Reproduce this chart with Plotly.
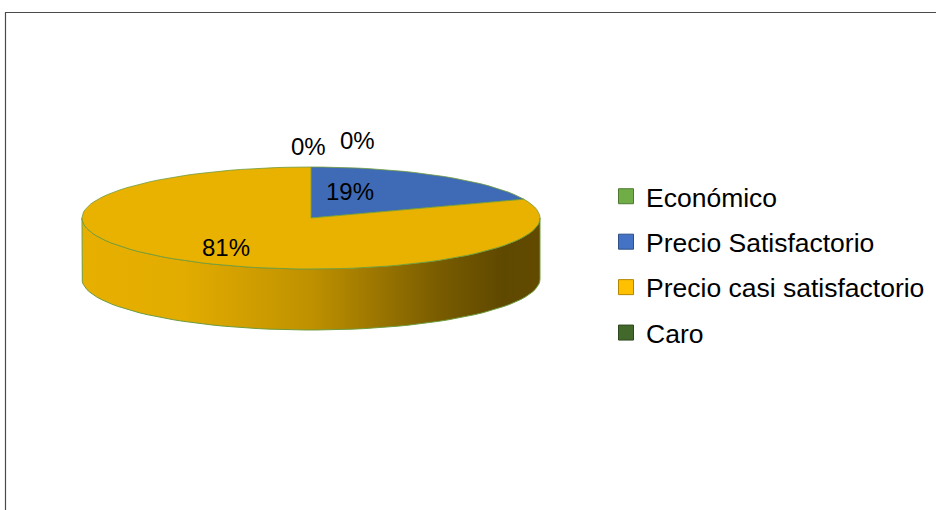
import math
import plotly.graph_objects as go

# Survey answers about perceived price
categories = ["Económico", "Precio Satisfactorio", "Precio casi satisfactorio", "Caro"]
values = [0, 19, 81, 0]
colors = ["#70AD47", "#3F6BB6", "#EAB200", "#446A2B"]
legend_colors = ["#70AD47", "#4472C4", "#FFC000", "#43682B"]

W, H = 936, 510
FONT = "Arial, 'Liberation Sans', sans-serif"

# Geometry of the tilted pie (pixel space)
CX, CY = 311.0, 218.0
RX, RY = 229.0, 51.0
DEPTH = 61.0
EDGE = "#6E9B3C"


def pt(theta, drop=0.0, k=1.0):
    """Point on the top ellipse; theta in degrees clockwise from 12 o'clock."""
    t = math.radians(theta)
    return CX + k * RX * math.sin(t), CY - k * RY * math.cos(t) + drop


def arc(a, b, drop=0.0, n=120):
    steps = max(2, int(abs(b - a) / 360 * n) + 2)
    xs, ys = [], []
    for i in range(steps):
        th = a + (b - a) * i / (steps - 1)
        x, y = pt(th, drop)
        xs.append(x)
        ys.append(y)
    return xs, ys


def darken(hexcol, f):
    h = hexcol.lstrip("#")
    r, g, b = (int(h[i:i + 2], 16) for i in (0, 2, 4))
    return f"rgb({int(r * f)},{int(g * f)},{int(b * f)})"


total = sum(values)
angles = []
acc = 0.0
for v in values:
    start = acc / total * 360
    acc += v
    angles.append((start, acc / total * 360))

fig = go.Figure()

# Front walls (visible between 90 and 270 degrees)
for (a, b), col, v in zip(angles, colors, values):
    lo, hi = max(a, 90.0), min(b, 270.0)
    if v <= 0 or hi <= lo:
        continue
    tx, ty = arc(lo, hi)
    bx, by = arc(hi, lo, DEPTH)
    fig.add_trace(go.Scatter(
        x=tx + bx + [tx[0]], y=ty + by + [ty[0]],
        mode="lines", fill="toself",
        fillgradient=dict(type="horizontal", colorscale=[
            [0.0, darken(col, 0.99)], [0.22, darken(col, 0.97)],
            [0.5, darken(col, 0.82)], [0.78, darken(col, 0.52)],
            [0.92, darken(col, 0.41)], [1.0, darken(col, 0.42)]]),
        line=dict(color=EDGE, width=1),
        hoverinfo="skip", showlegend=False))

# Top faces
for (a, b), col, v, name in zip(angles, colors, values, categories):
    if v <= 0:
        continue
    xs, ys = arc(a, b)
    fig.add_trace(go.Scatter(
        x=[CX] + xs + [CX], y=[CY] + ys + [CY],
        mode="lines", fill="toself", fillcolor=col,
        line=dict(color=EDGE, width=0.8),
        name=name, hoverinfo="name", showlegend=False))

# Percentage labels
label_spots = {1: (0.30, 0.62), 2: (0.66, 0.71)}
zero_spots = {0: (357, 140), 3: (308, 146)}
for i, ((a, b), v) in enumerate(zip(angles, values)):
    txt = f"{round(v / total * 100)}%"
    if v > 0:
        kx, ky = label_spots.get(i, (0.6, 0.6))
        t = math.radians((a + b) / 2)
        x = CX + kx * RX * math.sin(t)
        y = CY - ky * RY * math.cos(t)
    else:
        x, y = zero_spots[i]
    fig.add_annotation(x=x, y=y, text=txt, showarrow=False,
                       font=dict(family=FONT, size=24, color="#000000"))

# Legend entries
for i, (name, col) in enumerate(zip(categories, legend_colors)):
    fig.add_trace(go.Scatter(
        x=[None], y=[None], mode="markers", name=name,
        legendgroup=f"g{i}",
        marker=dict(symbol="square", size=15, color=col,
                    line=dict(color=darken(col, 0.7), width=1))))

# Chart frame
fig.add_shape(type="rect", xref="x", yref="y", x0=5.5, y0=12.5, x1=950, y1=530,
              line=dict(color="#4a4a4a", width=1.2), layer="above")

fig.update_layout(
    width=W, height=H,
    margin=dict(l=0, r=0, t=0, b=0),
    paper_bgcolor="white", plot_bgcolor="white",
    xaxis=dict(range=[0, W], visible=False, domain=[0, 1], fixedrange=True),
    yaxis=dict(range=[H, 0], visible=False, domain=[0, 1], fixedrange=True),
    showlegend=True,
    legend=dict(x=606 / W, xanchor="left", y=1 - 264.5 / H, yanchor="middle",
                font=dict(family=FONT, size=26.5, color="#000000"),
                tracegroupgap=8, itemsizing="trace",
                bgcolor="rgba(0,0,0,0)"),
)

fig.write_html("out.html")
